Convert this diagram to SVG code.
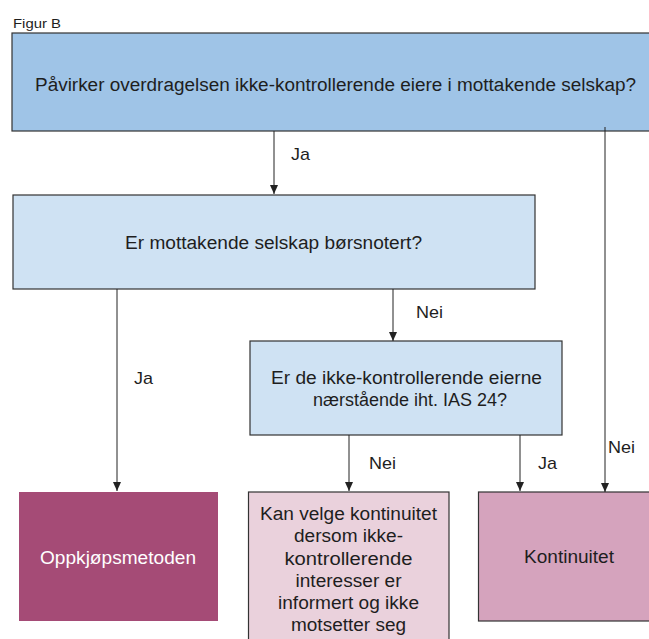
<svg xmlns="http://www.w3.org/2000/svg" width="649" height="639" viewBox="0 0 649 639">
<defs>
<style>
text{font-family:"Liberation Sans",Arial,sans-serif;fill:#1e1e1e}
.t{font-size:18px;text-anchor:middle}
.lb{font-size:17px}
.box{stroke:#333;stroke-width:1.2}
.q1{fill:#9fc4e7}
.q2{fill:#cfe2f3}
.conn line{stroke:#222;stroke-width:1;fill:none}
.arr{marker-end:url(#ah)}
</style>
<marker id="ah" viewBox="0 0 9 8" refX="9" refY="4" markerWidth="9" markerHeight="8" markerUnits="userSpaceOnUse" orient="auto">
<path d="M0,0 L9,4 L0,8 Z" fill="#222"/>
</marker>
</defs>
<rect width="649" height="639" fill="#fff"/>
<text x="13" y="28" font-size="13" textLength="48" lengthAdjust="spacingAndGlyphs">Figur B</text>

<g id="q-overdragelse">
<rect class="box q1" x="12" y="33" width="650" height="98"/>
<text class="t" x="335.5" y="91" textLength="601" lengthAdjust="spacingAndGlyphs">Påvirker overdragelsen ikke-kontrollerende eiere i mottakende selskap?</text>
</g>

<g id="q-borsnotert">
<rect class="box q2" x="13" y="195" width="522" height="94"/>
<text class="t" x="273.5" y="249" textLength="297" lengthAdjust="spacingAndGlyphs">Er mottakende selskap børsnotert?</text>
</g>

<g id="q-naerstaende">
<rect class="box q2" x="250" y="341" width="312" height="94"/>
<text class="t" x="406.5" y="384" textLength="271" lengthAdjust="spacingAndGlyphs">Er de ikke-kontrollerende eierne</text>
<text class="t" x="410" y="406" textLength="194" lengthAdjust="spacingAndGlyphs">nærstående iht. IAS 24?</text>
</g>

<g id="r-oppkjop">
<rect x="19" y="492" width="199" height="129" fill="#a54b76"/>
<text class="t" x="118" y="564" textLength="156" lengthAdjust="spacingAndGlyphs" style="fill:#fff">Oppkjøpsmetoden</text>
</g>

<g id="r-kan-velge">
<rect class="box" x="248.5" y="492" width="200.5" height="160" fill="#ead1dc"/>
<text class="t" x="348.5" y="520" textLength="177" lengthAdjust="spacingAndGlyphs">Kan velge kontinuitet</text>
<text class="t" x="348.5" y="542" textLength="109" lengthAdjust="spacingAndGlyphs">dersom ikke-</text>
<text class="t" x="348.5" y="564.5" textLength="128" lengthAdjust="spacingAndGlyphs">kontrollerende</text>
<text class="t" x="348.5" y="587" textLength="106" lengthAdjust="spacingAndGlyphs">interesser er</text>
<text class="t" x="348.5" y="609" textLength="141" lengthAdjust="spacingAndGlyphs">informert og ikke</text>
<text class="t" x="348.5" y="631" textLength="115" lengthAdjust="spacingAndGlyphs">motsetter seg</text>
</g>

<g id="r-kontinuitet">
<rect class="box" x="478.5" y="492" width="200" height="129" fill="#d5a3bd"/>
<text class="t" x="569" y="563" textLength="90" lengthAdjust="spacingAndGlyphs">Kontinuitet</text>
</g>

<g id="connectors" class="conn">
<line class="arr" x1="274" y1="131" x2="274" y2="194"/>
<line class="arr" x1="605" y1="127" x2="605" y2="492"/>
<line class="arr" x1="117" y1="289" x2="117" y2="491"/>
<line class="arr" x1="393" y1="289" x2="393" y2="341"/>
<line class="arr" x1="349" y1="435" x2="349" y2="491"/>
<line class="arr" x1="520" y1="435" x2="520" y2="491"/>
</g>

<g id="labels">
<text class="lb" x="291" y="160" textLength="19" lengthAdjust="spacingAndGlyphs">Ja</text>
<text class="lb" x="416" y="318" textLength="27" lengthAdjust="spacingAndGlyphs">Nei</text>
<text class="lb" x="134" y="384" textLength="19" lengthAdjust="spacingAndGlyphs">Ja</text>
<text class="lb" x="369" y="469" textLength="27" lengthAdjust="spacingAndGlyphs">Nei</text>
<text class="lb" x="538" y="469" textLength="19" lengthAdjust="spacingAndGlyphs">Ja</text>
<text class="lb" x="608" y="453" textLength="27" lengthAdjust="spacingAndGlyphs">Nei</text>
</g>
</svg>
